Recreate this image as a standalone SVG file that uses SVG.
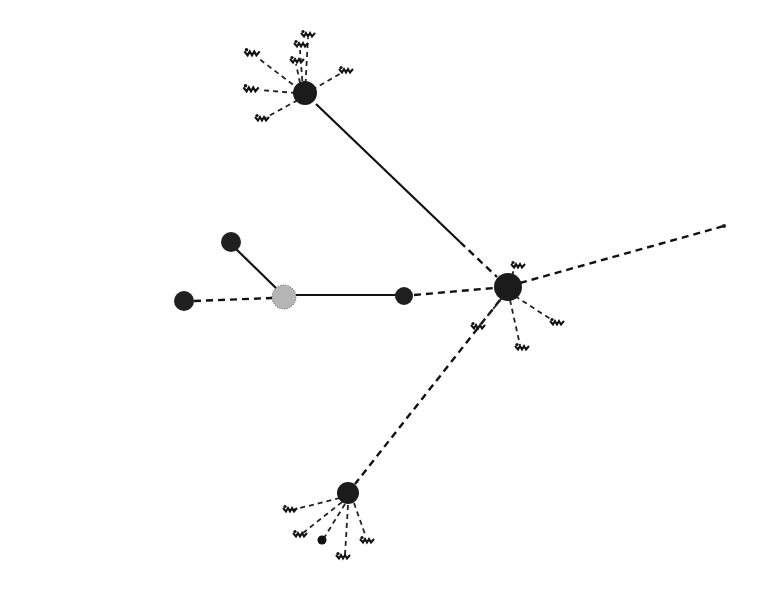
<svg xmlns="http://www.w3.org/2000/svg" width="772" height="616" viewBox="0 0 772 616">
<defs>
<style>
.e{stroke:#111;stroke-width:2.2;fill:none}
.d{stroke:#111;stroke-width:2.4;fill:none;stroke-dasharray:7 5}
.s{stroke:#222;stroke-width:1.8;fill:none;stroke-dasharray:5 4}
.hub{fill:#1b1b1b}
.n{fill:#202020}
.g{fill:#b5b5b5;stroke:#555;stroke-width:1;stroke-dasharray:1 1.5}
</style>
<symbol id="leaf" viewBox="-8 -5 16 10" overflow="visible">
<path d="M-7,-1 L-4,2.5 L-2,-1 L0,2.5 L2,-1 L4,2.5 L7,-1" stroke="#111" stroke-width="2" fill="none"/>
<circle cx="-5" cy="-2.5" r="1.6" fill="#111"/>
</symbol>
</defs>
<rect width="772" height="616" fill="#fff"/>
<g id="connectors">
<line class="e" x1="316" y1="104" x2="460" y2="242"/>
<line class="d" x1="460" y1="242" x2="497" y2="277"/>
<line class="d" x1="500" y1="300" x2="355" y2="484"/>
<line class="d" x1="520" y1="283" x2="724" y2="226"/>
<line class="e" x1="296" y1="295" x2="396" y2="295"/>
<line class="d" x1="414" y1="295" x2="494" y2="288"/>
<line class="e" x1="236" y1="249" x2="278" y2="290"/>
<line class="d" x1="194" y1="301" x2="272" y2="298"/>
<line class="s" x1="305" y1="93" x2="308" y2="38"/>
<line class="s" x1="303" y1="90" x2="300" y2="50"/>
<line class="s" x1="302" y1="92" x2="296" y2="64"/>
<line class="s" x1="300" y1="90" x2="258" y2="58"/>
<line class="s" x1="296" y1="93" x2="260" y2="90"/>
<line class="s" x1="312" y1="90" x2="343" y2="72"/>
<line class="s" x1="298" y1="100" x2="265" y2="118"/>
<line class="s" x1="512" y1="276" x2="515" y2="266"/>
<line class="s" x1="515" y1="296" x2="552" y2="320"/>
<line class="s" x1="510" y1="300" x2="520" y2="345"/>
<line class="s" x1="502" y1="298" x2="480" y2="325"/>
<line class="s" x1="340" y1="498" x2="292" y2="510"/>
<line class="s" x1="342" y1="502" x2="303" y2="533"/>
<line class="s" x1="345" y1="504" x2="324" y2="538"/>
<line class="s" x1="348" y1="505" x2="345" y2="555"/>
<line class="s" x1="354" y1="503" x2="366" y2="537"/>
</g>
<g id="hub-top"><circle class="hub" cx="305" cy="93" r="12"/></g>
<g id="hub-right"><circle class="hub" cx="508" cy="287" r="14"/></g>
<g id="hub-bottom"><circle class="hub" cx="348" cy="493" r="11"/></g>
<g id="node-gray"><circle class="g" cx="284" cy="297" r="12"/></g>
<g id="node-a"><circle class="n" cx="231" cy="242" r="10"/></g>
<g id="node-b"><circle class="n" cx="184" cy="301" r="10"/></g>
<g id="node-c"><circle class="n" cx="404" cy="296" r="9"/></g>
<g id="node-far"><circle class="n" cx="724" cy="226" r="2"/></g>
<g id="leaves">
<use href="#leaf" x="300" y="29" width="16" height="10"/>
<use href="#leaf" x="293" y="39" width="16" height="10"/>
<use href="#leaf" x="289" y="55" width="16" height="10"/>
<use href="#leaf" x="243" y="47" width="18" height="11"/>
<use href="#leaf" x="242" y="83" width="18" height="11"/>
<use href="#leaf" x="338" y="65" width="16" height="10"/>
<use href="#leaf" x="254" y="113" width="16" height="10"/>
<use href="#leaf" x="510" y="260" width="16" height="10"/>
<use href="#leaf" x="549" y="317" width="16" height="10"/>
<use href="#leaf" x="514" y="342" width="16" height="10"/>
<use href="#leaf" x="470" y="321" width="16" height="10"/>
<use href="#leaf" x="282" y="504" width="16" height="10"/>
<use href="#leaf" x="292" y="529" width="16" height="10"/>
<circle cx="322" cy="540" r="4.5" fill="#111"/>
<use href="#leaf" x="335" y="551" width="16" height="10"/>
<use href="#leaf" x="359" y="535" width="16" height="10"/>
</g>
</svg>
